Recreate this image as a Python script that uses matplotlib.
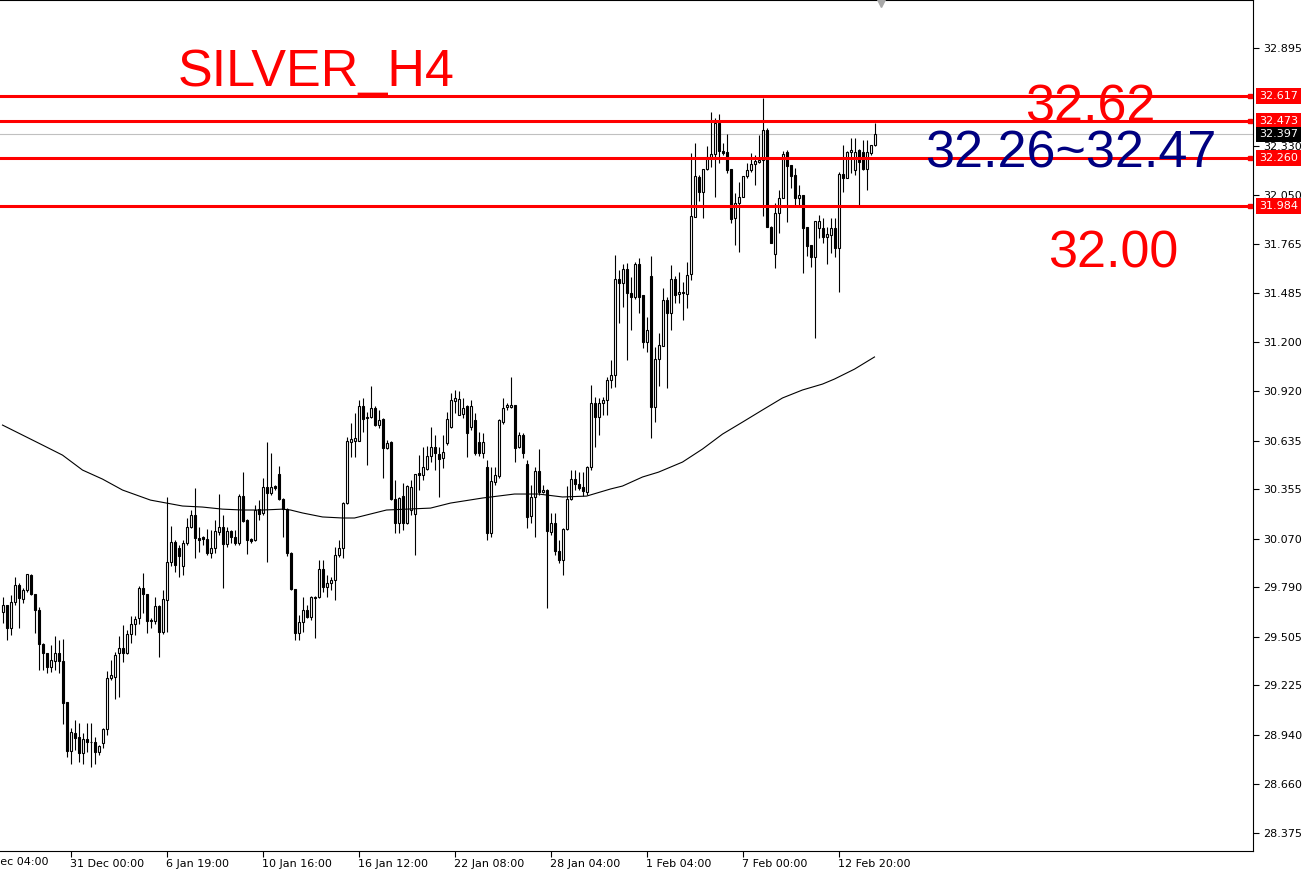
import numpy as np
import matplotlib
matplotlib.use("Agg")
import matplotlib.pyplot as plt
import matplotlib.transforms as mtransforms

# H4 candles, oldest first
opens = [
    29.647, 29.688, 29.555, 29.705, 29.803, 29.722, 29.774, 29.860, 29.751, 29.659,
    29.463, 29.412, 29.331, 29.365, 29.412, 29.365, 29.129, 28.847, 28.951, 28.928,
    28.836, 28.917, 28.899, 28.899, 28.841, 28.894, 28.974, 29.268, 29.274, 29.412,
    29.440, 29.412, 29.521, 29.578, 29.613, 29.786, 29.751, 29.601, 29.595, 29.682,
    29.532, 29.717, 29.935, 30.050, 30.016, 29.912, 30.045, 30.137, 30.206, 30.074,
    30.080, 30.068, 29.988, 30.016, 30.108, 30.137, 30.039, 30.114, 30.080, 30.045,
    30.315, 30.177, 30.068, 30.062, 30.240, 30.218, 30.368, 30.333, 30.373, 30.442,
    30.298, 30.240, 29.988, 29.780, 29.527, 29.590, 29.659, 29.619, 29.734, 29.734,
    29.895, 29.792, 29.815, 29.832, 29.976, 30.016, 30.275, 30.626, 30.632, 30.632,
    30.833, 30.771, 30.771, 30.822, 30.724, 30.759, 30.592, 30.626, 30.298, 30.160,
    30.315, 30.160, 30.235, 30.212, 30.448, 30.436, 30.471, 30.545, 30.598, 30.557,
    30.534, 30.621, 30.713, 30.862, 30.782, 30.788, 30.833, 30.713, 30.753, 30.626,
    30.563, 30.483, 30.103, 30.396, 30.431, 30.741, 30.828, 30.828, 30.839, 30.598,
    30.666, 30.500, 30.200, 30.310, 30.459, 30.338, 30.350, 30.108, 30.160, 29.999,
    29.947, 30.125, 30.298, 30.413, 30.385, 30.368, 30.338, 30.483, 30.851, 30.771,
    30.851, 30.868, 30.983, 31.012, 31.565, 31.542, 31.623, 31.485, 31.462, 31.651,
    31.473, 31.202, 31.582, 30.828, 31.104, 31.179, 31.444, 31.369, 31.565, 31.479,
    31.490, 31.479, 31.594, 31.921, 32.152, 32.065, 32.198, 32.261, 32.284, 32.463,
    32.302, 32.296, 32.198, 31.916, 32.003, 32.037, 32.157, 32.192, 32.227, 32.238,
    32.250, 32.423, 31.864, 31.709, 31.945, 32.031, 32.296, 32.221, 32.163, 32.031,
    32.048, 31.864, 31.760, 31.691, 31.858, 31.858, 31.806, 31.818, 31.858, 31.743,
    32.169, 32.146, 32.296, 32.192, 32.307, 32.296, 32.198, 32.290, 32.336,
]
highs = [
    29.734, 29.688, 29.745, 29.849, 29.815, 29.786, 29.866, 29.866, 29.751, 29.676,
    29.469, 29.412, 29.457, 29.509, 29.486, 29.492, 29.129, 28.980, 29.026, 29.009,
    28.951, 29.009, 29.009, 28.928, 28.882, 28.980, 29.308, 29.371, 29.417, 29.509,
    29.572, 29.544, 29.624, 29.624, 29.797, 29.872, 29.751, 29.613, 29.734, 29.688,
    29.774, 30.310, 30.142, 30.062, 30.033, 30.062, 30.189, 30.235, 30.362, 30.137,
    30.085, 30.125, 30.120, 30.177, 30.327, 30.206, 30.137, 30.120, 30.120, 30.327,
    30.453, 30.183, 30.074, 30.263, 30.292, 30.419, 30.626, 30.563, 30.379, 30.488,
    30.304, 30.246, 29.993, 29.780, 29.630, 29.734, 29.688, 29.740, 29.740, 29.947,
    29.947, 29.860, 29.849, 30.022, 30.062, 30.280, 30.655, 30.736, 30.794, 30.868,
    30.880, 30.799, 30.948, 30.833, 30.811, 30.765, 30.638, 30.632, 30.408, 30.310,
    30.391, 30.379, 30.408, 30.442, 30.551, 30.598, 30.603, 30.713, 30.666, 30.598,
    30.666, 30.799, 30.909, 30.926, 30.920, 30.880, 30.839, 30.868, 30.794, 30.683,
    30.678, 30.523, 30.483, 30.483, 30.759, 30.880, 30.851, 30.999, 30.839, 30.683,
    30.678, 30.523, 30.379, 30.483, 30.586, 30.379, 30.356, 30.218, 30.218, 30.062,
    30.131, 30.373, 30.465, 30.465, 30.453, 30.453, 30.488, 30.954, 30.886, 30.880,
    30.886, 30.999, 31.099, 31.703, 31.617, 31.651, 31.657, 31.577, 31.663, 31.686,
    31.473, 31.346, 31.697, 31.173, 31.254, 31.513, 31.462, 31.645, 31.582, 31.605,
    31.548, 31.663, 32.290, 32.348, 32.163, 32.198, 32.330, 32.526, 32.491, 32.514,
    32.348, 32.400, 32.198, 32.060, 32.123, 32.157, 32.233, 32.290, 32.279, 32.394,
    32.607, 32.434, 31.870, 32.003, 32.077, 32.302, 32.307, 32.221, 32.204, 32.106,
    32.048, 31.864, 31.760, 31.898, 31.933, 31.916, 31.864, 31.916, 31.916, 32.180,
    32.336, 32.302, 32.377, 32.377, 32.313, 32.365, 32.365, 32.336, 32.463,
]
lows = [
    29.584, 29.486, 29.515, 29.688, 29.555, 29.700, 29.762, 29.745, 29.527, 29.314,
    29.314, 29.297, 29.302, 29.314, 29.297, 29.003, 28.813, 28.773, 28.853, 28.784,
    28.773, 28.841, 28.756, 28.773, 28.824, 28.865, 28.939, 29.256, 29.147, 29.159,
    29.359, 29.406, 29.469, 29.515, 29.578, 29.642, 29.527, 29.555, 29.578, 29.389,
    29.521, 29.532, 29.912, 29.877, 29.849, 29.860, 30.033, 30.131, 29.959, 29.993,
    30.033, 29.976, 29.959, 29.988, 30.091, 29.786, 30.022, 30.045, 30.033, 30.033,
    30.165, 29.982, 30.045, 30.056, 30.177, 30.206, 29.935, 30.321, 30.350, 30.292,
    30.080, 29.970, 29.774, 29.486, 29.486, 29.532, 29.613, 29.601, 29.498, 29.728,
    29.762, 29.734, 29.774, 29.717, 29.965, 29.959, 30.269, 30.540, 30.540, 30.632,
    30.683, 30.494, 30.765, 30.718, 30.707, 30.419, 30.586, 30.292, 30.103, 30.103,
    30.120, 30.154, 30.206, 29.976, 30.350, 30.408, 30.465, 30.511, 30.465, 30.310,
    30.477, 30.609, 30.707, 30.794, 30.782, 30.765, 30.540, 30.695, 30.551, 30.545,
    30.534, 30.062, 30.080, 30.379, 30.419, 30.730, 30.811, 30.822, 30.511, 30.592,
    30.534, 30.131, 30.160, 30.080, 30.321, 30.333, 29.671, 30.091, 29.976, 29.930,
    29.860, 30.120, 30.292, 30.350, 30.350, 30.315, 30.321, 30.465, 30.598, 30.666,
    30.782, 30.782, 30.937, 30.943, 31.312, 31.404, 31.099, 31.271, 31.450, 31.369,
    31.168, 31.145, 30.649, 30.741, 30.948, 31.179, 30.937, 31.271, 31.427, 31.427,
    31.329, 31.398, 31.559, 31.921, 32.014, 31.916, 32.192, 32.210, 32.037, 32.233,
    32.279, 32.175, 31.887, 31.760, 31.720, 32.037, 32.146, 32.180, 32.106, 32.233,
    31.927, 31.864, 31.772, 31.628, 31.830, 32.031, 31.893, 32.088, 31.979, 31.991,
    31.600, 31.697, 31.634, 31.225, 31.801, 31.772, 31.651, 31.714, 31.691, 31.490,
    32.065, 32.146, 32.175, 32.163, 31.985, 32.192, 32.077, 32.279, 32.330,
]
closes = [
    29.688, 29.555, 29.705, 29.803, 29.728, 29.774, 29.866, 29.751, 29.659, 29.463,
    29.412, 29.331, 29.371, 29.412, 29.365, 29.124, 28.847, 28.956, 28.922, 28.836,
    28.917, 28.899, 28.899, 28.841, 28.876, 28.974, 29.268, 29.285, 29.400, 29.440,
    29.412, 29.521, 29.578, 29.607, 29.786, 29.751, 29.595, 29.595, 29.682, 29.532,
    29.722, 29.935, 30.050, 29.918, 29.970, 30.045, 30.137, 30.206, 30.074, 30.062,
    30.068, 29.988, 30.016, 30.114, 30.137, 30.039, 30.114, 30.080, 30.045, 30.315,
    30.171, 30.062, 30.056, 30.235, 30.212, 30.368, 30.333, 30.368, 30.362, 30.298,
    30.240, 29.988, 29.780, 29.527, 29.590, 29.659, 29.619, 29.734, 29.728, 29.895,
    29.792, 29.815, 29.832, 29.976, 30.016, 30.275, 30.632, 30.643, 30.649, 30.833,
    30.759, 30.765, 30.822, 30.724, 30.753, 30.592, 30.621, 30.298, 30.160, 30.304,
    30.160, 30.373, 30.368, 30.442, 30.436, 30.483, 30.545, 30.598, 30.563, 30.528,
    30.568, 30.759, 30.868, 30.880, 30.874, 30.822, 30.678, 30.833, 30.563, 30.563,
    30.626, 30.103, 30.402, 30.436, 30.753, 30.822, 30.839, 30.839, 30.592, 30.666,
    30.563, 30.195, 30.310, 30.459, 30.338, 30.350, 30.114, 30.160, 29.999, 29.947,
    30.125, 30.298, 30.413, 30.385, 30.362, 30.344, 30.483, 30.851, 30.771, 30.851,
    30.868, 30.983, 31.012, 31.565, 31.542, 31.623, 31.485, 31.462, 31.651, 31.462,
    31.202, 31.271, 30.828, 31.104, 31.185, 31.444, 31.369, 31.565, 31.473, 31.490,
    31.485, 31.588, 31.927, 32.157, 32.065, 32.198, 32.267, 32.284, 32.463, 32.302,
    32.290, 32.192, 31.910, 32.003, 32.037, 32.157, 32.192, 32.227, 32.244, 32.250,
    32.423, 31.864, 31.772, 31.945, 32.031, 32.284, 32.215, 32.157, 32.031, 32.048,
    31.858, 31.755, 31.691, 31.898, 31.898, 31.806, 31.824, 31.858, 31.743, 32.169,
    32.146, 32.296, 32.307, 32.296, 32.238, 32.198, 32.296, 32.336, 32.397,
]

# moving average, sampled at candle indices
ma_idx = [0, 10, 15, 20, 25, 30, 37, 41, 45, 50, 55, 60, 65, 70, 72, 75, 80, 85, 88,
          96, 107, 112, 120, 128, 134, 140, 146, 152, 155, 160, 164, 170, 175, 180,
          185, 190, 195, 200, 205, 208, 213, 218]
ma_vals = [30.724, 30.609, 30.551, 30.465, 30.413, 30.350, 30.292, 30.275, 30.258,
           30.252, 30.240, 30.235, 30.235, 30.240, 30.235, 30.218, 30.195, 30.189,
           30.189, 30.235, 30.246, 30.275, 30.304, 30.327, 30.327, 30.310, 30.315,
           30.356, 30.373, 30.425, 30.453, 30.511, 30.586, 30.672, 30.741, 30.811,
           30.880, 30.926, 30.960, 30.989, 31.046, 31.116]

red_levels = [32.617, 32.473, 32.260, 31.984]
bid = 32.397

y_ticks = [32.895, 32.330, 32.050, 31.765, 31.485, 31.200, 30.920, 30.635, 30.355,
           30.070, 29.790, 29.505, 29.225, 28.940, 28.660, 28.375]
x_tick_idx = [17, 41, 65, 89, 113, 137, 161, 185, 209]
x_tick_labels = ["31 Dec 00:00", "6 Jan 19:00", "10 Jan 16:00", "16 Jan 12:00",
                 "22 Jan 08:00", "28 Jan 04:00", "1 Feb 04:00", "7 Feb 00:00",
                 "12 Feb 20:00"]

fig = plt.figure(figsize=(13.12, 8.76), dpi=100)
ax = fig.add_axes([0, 25 / 876, 1253 / 1312, 851 / 876])
ax.set_xlim(-0.625, 312.625)
ax.set_ylim(28.272, 33.171)

o = np.array(opens)
h = np.array(highs)
l = np.array(lows)
c = np.array(closes)
idx = np.arange(len(o))
up = c >= o

ax.axhline(bid, color="#c0c0c0", lw=0.8, zorder=1)
ax.vlines(idx, l, h, color="black", lw=0.8, zorder=2)
ax.bar(idx[up], (c - o)[up], bottom=o[up], width=0.5, facecolor="white",
       edgecolor="black", linewidth=0.8, zorder=3)
ax.bar(idx[~up], (o - c)[~up], bottom=c[~up], width=0.5, facecolor="black",
       edgecolor="black", linewidth=0.8, zorder=3)
ax.plot(ma_idx, ma_vals, color="black", lw=0.8, zorder=4)

yblend = mtransforms.blended_transform_factory(ax.transAxes, ax.transData)
for lvl in red_levels:
    ax.axhline(lvl, color="red", lw=2.2, zorder=5)
ax.plot([1 - 3 / 1253] * len(red_levels), red_levels, "s", color="red", ms=3.5,
        transform=yblend, clip_on=False, zorder=6)

# price boxes on the right scale
for lvl in red_levels:
    ax.text(1 + 6 / 1253, lvl, "%.3f" % lvl, transform=yblend, color="white",
            fontsize=8, va="center", ha="left", zorder=10,
            bbox=dict(boxstyle="square,pad=0.25", fc="red", ec="none"))
ax.text(1 + 6 / 1253, bid, "%.3f" % bid, transform=yblend, color="white",
        fontsize=8, va="center", ha="left", zorder=10,
        bbox=dict(boxstyle="square,pad=0.25", fc="black", ec="none"))

# axes look
ax.spines["left"].set_visible(False)
for s in ["top", "right", "bottom"]:
    ax.spines[s].set_linewidth(0.8)
ax.yaxis.tick_right()
ax.set_yticks(y_ticks)
ax.set_yticklabels(["%.3f" % v for v in y_ticks])
ax.tick_params(axis="y", direction="out", length=4, width=0.8, labelsize=8, pad=3)
ax.set_xticks(x_tick_idx)
ax.set_xticklabels(x_tick_labels, ha="left")
ax.tick_params(axis="x", direction="out", length=4, width=0.8, labelsize=8, pad=2)
xblend = mtransforms.blended_transform_factory(ax.transData, ax.transAxes)
ax.text(-7, -6 / 851, "24 Dec 04:00", transform=xblend, fontsize=8, va="top",
        ha="left", clip_on=False)

# chart shift marker
ax.plot([881 / 1253], [1 - 3 / 851], "v", color="#a8a8a8", ms=6,
        transform=ax.transAxes, clip_on=False, zorder=7)

# annotations
big = dict(fontsize=37.5, family="Liberation Sans", va="baseline", ha="left", zorder=12)
fig.text(178 / 1312, 1 - 86 / 876, "SILVER_H4", color="red", **big)
fig.text(1025 / 1312, 1 - 122 / 876, "32.62", color="red", **big)
fig.text(925 / 1312, 1 - 168 / 876, "32.26~32.47", color="#000080", **big)
fig.text(1048 / 1312, 1 - 268 / 876, "32.00", color="red", **big)

fig.savefig("out.png", dpi=100)
